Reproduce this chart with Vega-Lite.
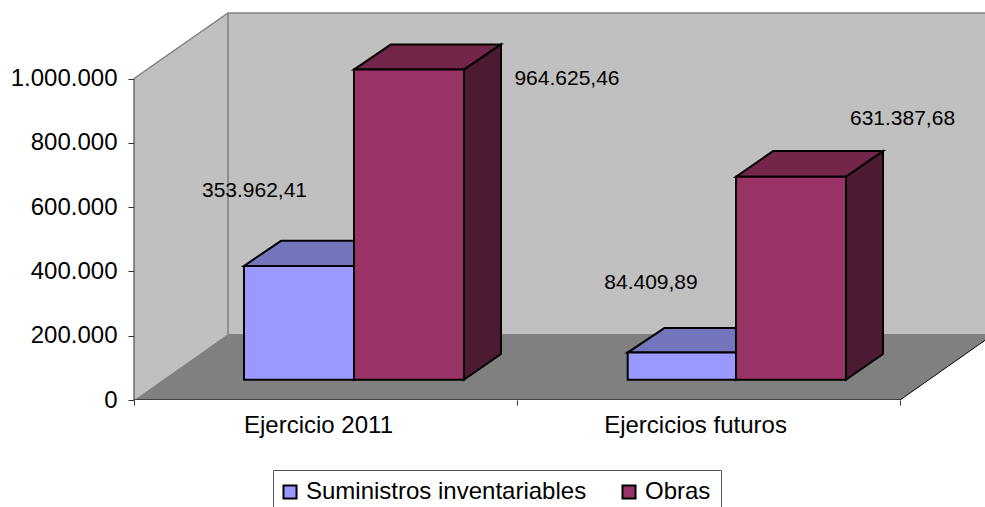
{
"$schema":"https://vega.github.io/schema/vega-lite/v6.json",
"autosize":"none",
"width":851,"height":387,
"padding":{"left":134,"top":13,"right":0,"bottom":107},
"background":"white",
"config":{"view":{"stroke":null},"font":"Liberation Sans","text":{"font":"Liberation Sans"}},
"datasets":{
"plane":[
{"part":"floor","yb":0,"xa":0,"xb":2},
{"part":"floor","yb":205286,"xa":0.2454,"xb":2.2454}
],
"leftWall":[
{"x":0,"y":0,"y2":1000000},
{"x":0.2454,"y":205286,"y2":1203733}
],
"backWall":[{"x":0.2454,"x2":2.2219,"y":205286,"y2":1203733}],
"edges":[
{"edge":"top","x":0,"y":1000000},
{"edge":"top","x":0.2454,"y":1203733},
{"edge":"top","x":2.2219,"y":1203733},
{"edge":"back","x":0.2454,"y":1203733},
{"edge":"back","x":0.2454,"y":205286}
],
"floorEdge":[
{"x":0,"y":0},{"x":2,"y":0},{"x":2.2454,"y":205286}
],
"yLine":[{"x":0,"y":0},{"x":0,"y":1000000}],
"bars":[
{"cat":"Ejercicio 2011","series":"Suministros inventariables","value":353962.41,"x":0.2872,"x2":0.5744},
{"cat":"Ejercicio 2011","series":"Obras","value":964625.46,"x":0.5744,"x2":0.8616},
{"cat":"Ejercicios futuros","series":"Suministros inventariables","value":84409.89,"x":1.2890,"x2":1.5718},
{"cat":"Ejercicios futuros","series":"Obras","value":631387.68,"x":1.5718,"x2":1.8590}
],
"tops":[
{"cat":"Ejercicio 2011","series":"Suministros inventariables","y":353962.41,"x":0.2872,"x2":0.5744},
{"cat":"Ejercicio 2011","series":"Suministros inventariables","y":432000,"x":0.3838,"x2":0.6710},
{"cat":"Ejercicio 2011","series":"Obras","y":964625.46,"x":0.5744,"x2":0.8616},
{"cat":"Ejercicio 2011","series":"Obras","y":1043000,"x":0.6710,"x2":0.9582},
{"cat":"Ejercicios futuros","series":"Suministros inventariables","y":84409.89,"x":1.2890,"x2":1.5718},
{"cat":"Ejercicios futuros","series":"Suministros inventariables","y":161000,"x":1.3856,"x2":1.6684},
{"cat":"Ejercicios futuros","series":"Obras","y":631387.68,"x":1.5718,"x2":1.8590},
{"cat":"Ejercicios futuros","series":"Obras","y":711000,"x":1.6684,"x2":1.9556}
],
"sides":[
{"cat":"Ejercicio 2011","series":"Suministros inventariables","x":0.5744,"y":353962.41,"y2":0},
{"cat":"Ejercicio 2011","series":"Suministros inventariables","x":0.6710,"y":432000,"y2":80000},
{"cat":"Ejercicio 2011","series":"Obras","x":0.8616,"y":964625.46,"y2":0},
{"cat":"Ejercicio 2011","series":"Obras","x":0.9582,"y":1043000,"y2":80000},
{"cat":"Ejercicios futuros","series":"Suministros inventariables","x":1.5718,"y":84409.89,"y2":0},
{"cat":"Ejercicios futuros","series":"Suministros inventariables","x":1.6684,"y":161000,"y2":80000},
{"cat":"Ejercicios futuros","series":"Obras","x":1.8590,"y":631387.68,"y2":0},
{"cat":"Ejercicios futuros","series":"Obras","x":1.9556,"y":711000,"y2":80000}
],
"labels":[
{"label":"353.962,41","x":0.3146,"y":650074},
{"label":"964.625,46","x":1.1305,"y":998438},
{"label":"84.409,89","x":1.3499,"y":363917},
{"label":"631.387,68","x":2.0065,"y":874022}
]
},
"resolve":{"scale":{"color":"independent"},"axis":{"x":"independent"}},
"layer":[
{"data":{"name":"backWall"},
 "mark":{"type":"rect","color":"#C0C0C0"},
 "encoding":{
  "x":{"field":"x","type":"quantitative","scale":{"domain":[0,2.2219],"nice":false,"zero":false},"title":null,
   "axis":{"orient":"bottom","values":[0,1,2],"labels":false,"domain":false,"grid":false,"tickColor":"#333333","tickSize":5}},
  "x2":{"field":"x2"},
  "y":{"field":"y","type":"quantitative","scale":{"domain":[0,1203733],"nice":false,"zero":false},"title":null,
   "axis":{"values":[0,200000,400000,600000,800000,1000000],"labelExpr":"replace(format(datum.value, ','), /,/g, '.')","domain":false,"grid":false,"tickColor":"#333333","tickSize":6,"labelFont":"Liberation Sans","labelFontSize":24,"labelColor":"#000000","labelPadding":11}},
  "y2":{"field":"y2"}
 }},
{"data":{"name":"leftWall"},
 "mark":{"type":"area","orient":"vertical","color":"#C0C0C0"},
 "encoding":{
  "x":{"field":"x","type":"quantitative","title":null,
   "axis":{"orient":"bottom","values":[0.4804,1.4648],"labelExpr":"datum.value < 1 ? 'Ejercicio 2011' : 'Ejercicios futuros'","ticks":false,"domain":false,"grid":false,"labelFont":"Liberation Sans","labelFontSize":24,"labelLimit":400,"labelColor":"#000000","labelPadding":13}},
  "y":{"field":"y","type":"quantitative","stack":null},
  "y2":{"field":"y2"}
 }},
{"data":{"name":"plane"},
 "mark":{"type":"area","orient":"horizontal","color":"#808080","clip":true},
 "encoding":{
  "y":{"field":"yb","type":"quantitative"},
  "x":{"field":"xa","type":"quantitative","stack":null,"axis":null},
  "x2":{"field":"xb"}
 }},
{"data":{"name":"edges"},
 "mark":{"type":"line","color":"#808080","strokeWidth":1.5,"clip":false},
 "encoding":{
  "detail":{"field":"edge"},
  "x":{"field":"x","type":"quantitative","axis":null},
  "y":{"field":"y","type":"quantitative"}
 }},
{"data":{"name":"floorEdge"},
 "mark":{"type":"line","color":"#000000","strokeWidth":1,"clip":true},
 "encoding":{
  "x":{"field":"x","type":"quantitative","axis":null},
  "y":{"field":"y","type":"quantitative"}
 }},
{"data":{"name":"yLine"},
 "mark":{"type":"line","color":"#333333","strokeWidth":1,"clip":false},
 "encoding":{
  "x":{"field":"x","type":"quantitative","axis":null},
  "y":{"field":"y","type":"quantitative"}
 }},
{"data":{"name":"tops"},
 "mark":{"type":"area","orient":"horizontal","stroke":"#000000","strokeWidth":2,"yOffset":-20.3,"strokeJoin":"miter"},
 "encoding":{
  "detail":{"field":"cat"},
  "y":{"field":"y","type":"quantitative"},
  "x":{"field":"x","type":"quantitative","stack":null,"axis":null},
  "x2":{"field":"x2"},
  "color":{"field":"series","type":"nominal","legend":null,"scale":{"domain":["Suministros inventariables","Obras"],"range":["#7575BD","#732649"]}}
 }},
{"data":{"name":"sides"},
 "mark":{"type":"area","orient":"vertical","stroke":"#000000","strokeWidth":2,"yOffset":-20.3,"y2Offset":-20.3},
 "encoding":{
  "detail":{"field":"cat"},
  "x":{"field":"x","type":"quantitative","axis":null},
  "y":{"field":"y","type":"quantitative","stack":null},
  "y2":{"field":"y2"},
  "color":{"field":"series","type":"nominal","legend":null,"scale":{"domain":["Suministros inventariables","Obras"],"range":["#4D4D80","#4D1A33"]}}
 }},
{"data":{"name":"bars"},
 "mark":{"type":"rect","stroke":"#000000","strokeWidth":2,"yOffset":-20.3,"y2Offset":-20.3},
 "encoding":{
  "x":{"field":"x","type":"quantitative","axis":null},
  "x2":{"field":"x2"},
  "y":{"field":"value","type":"quantitative"},
  "y2":{"datum":0},
  "color":{"field":"series","type":"nominal","sort":null,
   "scale":{"domain":["Suministros inventariables","Obras"],"range":["#9999FF","#993366"]},
   "legend":{"title":null,"orient":"none","legendX":139,"legendY":457,"direction":"horizontal","columns":2,"symbolType":"square","symbolSize":170,"symbolStrokeColor":"#000000","symbolStrokeWidth":2,"symbolOffset":-5,"labelOffset":4,"labelFont":"Liberation Sans","labelFontSize":24,"labelColor":"#000000","strokeColor":"#555555","fillColor":"#FFFFFF","padding":10,"columnPadding":31,"labelLimit":400,"symbolOpacity":1}}
 }},
{"data":{"name":"labels"},
 "mark":{"type":"text","font":"Liberation Sans","fontSize":21,"color":"#000000","align":"center","baseline":"middle"},
 "encoding":{
  "x":{"field":"x","type":"quantitative","axis":null},
  "y":{"field":"y","type":"quantitative"},
  "text":{"field":"label","type":"nominal"}
 }}
]
}
